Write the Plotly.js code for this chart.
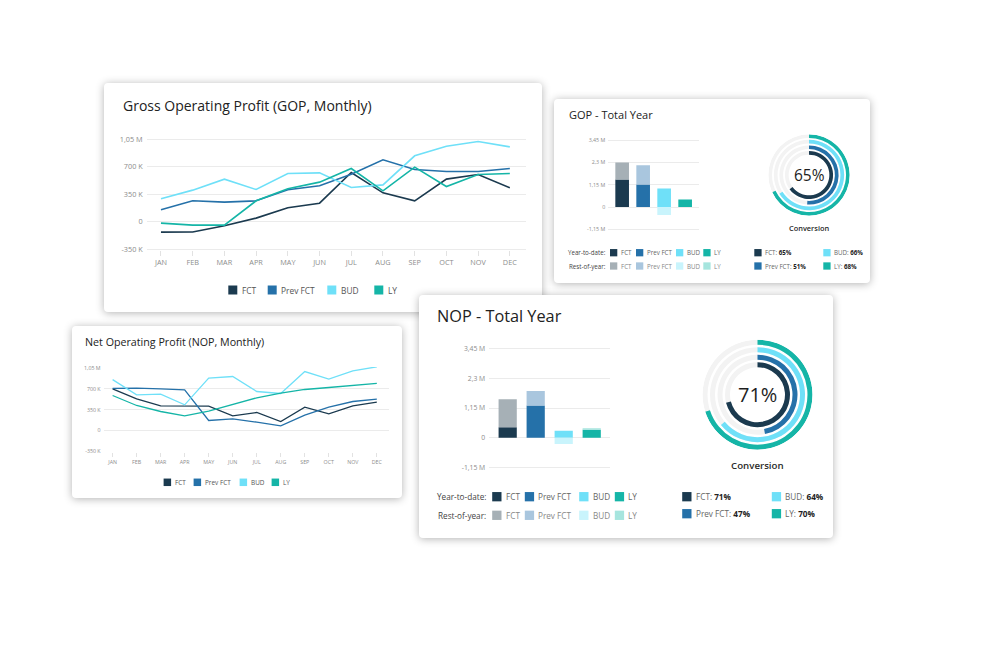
<!DOCTYPE html>
<html><head><meta charset="utf-8">
<script src="https://cdn.plot.ly/plotly-3.0.1.min.js"></script>
<style>
body{margin:0;background:#fff;}
#page{position:relative;width:1000px;height:647px;overflow:hidden;background:#fff;}
.card{position:absolute;background:#fff;border-radius:4px;box-shadow:0 1px 9px rgba(0,0,0,0.30);}
</style></head><body>
<div id="page">
<div class="card" id="c1" style="left:104px;top:83px;width:438px;height:229px;z-index:1"></div>
<div class="card" id="c2" style="left:554px;top:99px;width:316px;height:184px;z-index:1"></div>
<div class="card" id="c3" style="left:72px;top:326px;width:330px;height:172px;z-index:1"></div>
<div class="card" id="c4" style="left:419px;top:295px;width:414px;height:243px;z-index:2"></div>
</div>
<script>
// ---------- DATA ----------
const months = ['JAN','FEB','MAR','APR','MAY','JUN','JUL','AUG','SEP','OCT','NOV','DEC'];
const seriesNames = ['FCT','Prev FCT','BUD','LY'];

const gopFCT     = [-131000,-130000,-51000,47000,178000,237000,627000,369000,267000,543000,602000,432000];
const gopPrevFCT = [153000,267000,250000,267000,407000,458000,606000,789000,666000,640000,640000,678000];
const gopBUD     = [293000,403000,543000,411000,615000,623000,437000,470000,840000,962000,1022000,954000];
const gopLY      = [-17000,-42000,-42000,267000,420000,505000,678000,394000,695000,449000,602000,615000];

const nopFCT     = [700000,532000,414000,414000,409000,246000,302000,151000,392000,280000,414000,476000];
const nopPrevFCT = [706000,711000,700000,683000,168000,196000,140000,78000,258000,392000,487000,526000];
const nopBUD     = [854000,599000,610000,431000,879000,907000,655000,622000,991000,862000,1002000,1070000];
const nopLY      = [588000,420000,319000,246000,325000,431000,549000,627000,689000,722000,762000,790000];

const monthlyTickVals = [-350000,0,350000,700000,1050000];
const monthlyTickText = ['-350 K','0','350 K','700 K','1,05 M'];

const totalCats = ['FCT','Prev FCT','BUD','LY'];
const gopYTD = [1420000,1170000,960000,390000];
const gopROY = [880000,990000,-410000,0];
const nopYTD = [400000,1250000,270000,310000];
const nopROY = [1090000,560000,-250000,50000];
const totalTickVals = [-1150000,0,1150000,2300000,3450000];
const totalTickText = ['-1,15 M','0','1,15 M','2,3 M','3,45 M'];

const gopConversion = [65,51,66,68];
const nopConversion = [71,47,64,70];

// ---------- STYLE ----------
const colorsYTD = ['#1b3a4f','#2571a9','#6fe0f8','#15b5a7'];
const colorsROY = ['#a6b0b6','#a9c6de','#c9f4fc','#a6e5de'];
const FONT = 'Open Sans, sans-serif';
const cfg = {displayModeBar:false, staticPlot:true};

function base(W,H){
  return {width:W,height:H,margin:{l:0,r:0,t:0,b:0,pad:0},
    paper_bgcolor:'rgba(0,0,0,0)',plot_bgcolor:'rgba(0,0,0,0)',
    showlegend:false,font:{family:FONT,color:'#444'},shapes:[],annotations:[]};
}
function yDom(H,pyTop,pyBot,vTop,vBot,pad){
  const ppu=(pyBot-pyTop)/(vTop-vBot), padPx=pad*ppu;
  return {domain:[1-(pyBot+padPx)/H,1-(pyTop-padPx)/H],range:[vBot-pad,vTop+pad]};
}
function txt(L,W,H,x,y,t,size,color,anchor,weight){
  L.annotations.push({xref:'paper',yref:'paper',x:x/W,y:1-y/H,text:t,showarrow:false,
    xanchor:anchor||'left',yanchor:'middle',borderpad:0,
    font:{family:FONT,size:size,color:color||'#444',weight:weight||'normal'}});
}
function sq(L,W,H,x,y,s,color){
  L.shapes.push({type:'rect',xref:'paper',yref:'paper',x0:x/W,x1:(x+s)/W,y0:1-(y+s/2)/H,y1:1-(y-s/2)/H,
    line:{width:0},fillcolor:color});
}

function drawMonthly(id,W,H,g,series){
  const L=base(W,H);
  const yd=yDom(H,g.top,g.bot,1050000,-350000,15000);
  L.xaxis={domain:[g.left/W,g.right/W],type:'category',range:g.xr,showgrid:false,zeroline:false,showline:false,
    ticks:'outside',ticklen:g.tl,tickcolor:'#e2e2e2',tickfont:{family:FONT,size:g.tf,color:'#8c8c8c'}};
  L.yaxis={domain:yd.domain,range:yd.range,tickvals:monthlyTickVals,ticktext:monthlyTickText,showgrid:true,
    gridcolor:'#ebebeb',gridwidth:1,zeroline:false,showline:false,ticks:'',ticklabelstandoff:g.ys,
    tickfont:{family:FONT,size:g.tf,color:'#8c8c8c'}};
  const traces=series.map((s,i)=>({type:'scatter',mode:'lines',x:months,y:s,name:seriesNames[i],
    line:{color:colorsYTD[i],width:g.lw},hoverinfo:'skip'}));
  txt(L,W,H,g.tx,g.ty,g.title,g.tsize,'#222');
  seriesNames.forEach((n,i)=>{
    sq(L,W,H,g.lx[i],g.ly,g.ls,colorsYTD[i]);
    txt(L,W,H,g.lx[i]+g.ls+g.lg,g.ly,n,g.lf,'#555');
  });
  Plotly.newPlot(id,traces,L,cfg);
}

function drawTotal(id,W,H,g,ytd,roy,conv){
  const L=base(W,H);
  const yd=yDom(H,g.top,g.bot,3450000,-1150000,60000);
  L.xaxis={domain:[g.left/W,g.right/W],type:'category',range:[-0.66,3.66],showgrid:false,zeroline:false,
    showline:false,showticklabels:false,ticks:''};
  L.yaxis={domain:yd.domain,range:yd.range,tickvals:totalTickVals,ticktext:totalTickText,showgrid:true,
    gridcolor:'#ebebeb',gridwidth:1,zeroline:false,showline:false,ticks:'',ticklabelstandoff:g.ys,
    tickfont:{family:FONT,size:g.tf,color:'#8c8c8c'}};
  L.barmode='relative';
  const traces=[
    {type:'bar',x:totalCats,y:ytd,width:0.65,marker:{color:colorsYTD,line:{width:0}},hoverinfo:'skip'},
    {type:'bar',x:totalCats,y:roy,width:0.65,marker:{color:colorsROY,line:{width:0}},hoverinfo:'skip'}
  ];
  // donut (concentric arcs) in polar subplot
  const R=g.R, s=R/55, th=5*s;
  const outer=[32.5*s,40*s,47.5*s,55*s];
  L.polar={domain:{x:[(g.cx-R)/W,(g.cx+R)/W],y:[1-(g.cy+R)/H,1-(g.cy-R)/H]},
    bgcolor:'rgba(0,0,0,0)',hole:0,
    radialaxis:{visible:false,range:[0,R]},
    angularaxis:{visible:false,rotation:90,direction:'clockwise'}};
  traces.push({type:'barpolar',r:outer.map(()=>th),base:outer.map(o=>o-th),theta:outer.map(()=>180),
    width:outer.map(()=>359.99),marker:{color:'#f3f3f3',line:{width:0}},hoverinfo:'skip'});
  traces.push({type:'barpolar',r:conv.map(()=>th),base:outer.map(o=>o-th),theta:conv.map(p=>p*3.6/2),
    width:conv.map(p=>p*3.6),marker:{color:colorsYTD,line:{width:0}},hoverinfo:'skip'});
  txt(L,W,H,g.cx,g.cy,conv[0]+'%',g.csize,'#1e1e1e','center');
  txt(L,W,H,g.cx,g.convY,'Conversion',g.convSize,'#2a2a2a','center',600);
  txt(L,W,H,g.tx,g.ty,g.title,g.tsize,'#222');
  // legend rows
  txt(L,W,H,g.labR,g.r1,'Year-to-date:',g.lf,'#444','right');
  txt(L,W,H,g.labR,g.r2,'Rest-of-year:',g.lf,'#444','right');
  totalCats.forEach((n,i)=>{
    sq(L,W,H,g.lx[i],g.r1,g.ls,colorsYTD[i]);
    txt(L,W,H,g.lx[i]+g.ls+g.lg,g.r1,n,g.lf,'#666');
    sq(L,W,H,g.lx[i],g.r2,g.ls,colorsROY[i]);
    txt(L,W,H,g.lx[i]+g.ls+g.lg,g.r2,n,g.lf,'#888');
  });
  const pos=[[0,0],[0,1],[1,0],[1,1]];
  totalCats.forEach((n,i)=>{
    const x=g.px[pos[i][0]], y=pos[i][1]?g.pr2:g.r1;
    sq(L,W,H,x,y,g.ls,colorsYTD[i]);
    txt(L,W,H,x+g.ls+g.lg,y,n+': <b><span style="color:#222">'+conv[i]+'%</span></b>',g.lf,'#666');
  });
  Plotly.newPlot(id,traces,L,cfg);
}

drawMonthly('c1',438,229,{left:42.7,right:421.7,top:56.3,bot:166.3,xr:[-0.45,11.5],tl:5,tf:7.3,ys:3,lw:1.6,
  title:'Gross Operating Profit (GOP, Monthly)',tx:18,ty:22,tsize:14,
  lx:[124.3,163.7,223.3,270.3],ly:207,ls:9,lg:3.5,lf:8.4},[gopFCT,gopPrevFCT,gopBUD,gopLY]);

drawMonthly('c3',330,172,{left:31.6,right:316.6,top:42,bot:125.3,xr:[-0.375,11.49],tl:4,tf:5.3,ys:2,lw:1.3,
  title:'Net Operating Profit (NOP, Monthly)',tx:11.6,ty:16.3,tsize:10.7,
  lx:[91.6,121.6,167.6,199.6],ly:156.3,ls:7.5,lg:2.5,lf:6.4},[nopFCT,nopPrevFCT,nopBUD,nopLY]);

drawTotal('c2',316,184,{left:54.3,right:145,top:41.3,bot:130.3,tf:5.3,ys:2,
  title:'GOP - Total Year',tx:14,ty:16,tsize:11,
  R:40.7,cx:255,cy:76,csize:15.5,convY:129.3,convSize:7.4,
  labR:52.7,r1:153.7,r2:167,lx:[56,82,122,149.3],ls:7.3,lg:2.5,lf:6.2,
  px:[200.3,269.3],pr2:167},gopYTD,gopROY,gopConversion);

drawTotal('c4',414,243,{left:70.2,right:191.2,top:53.7,bot:172.3,tf:6.8,ys:3,
  title:'NOP - Total Year',tx:17,ty:20.7,tsize:16.3,
  R:55,cx:338.5,cy:99.7,csize:20,convY:170,convSize:9.7,
  labR:68.2,r1:201.7,r2:220.3,lx:[73.2,105.8,160.2,195.8],ls:9.3,lg:3.3,lf:8.2,
  px:[263.2,352.8],pr2:218.7},nopYTD,nopROY,nopConversion);
</script>
</body></html>
